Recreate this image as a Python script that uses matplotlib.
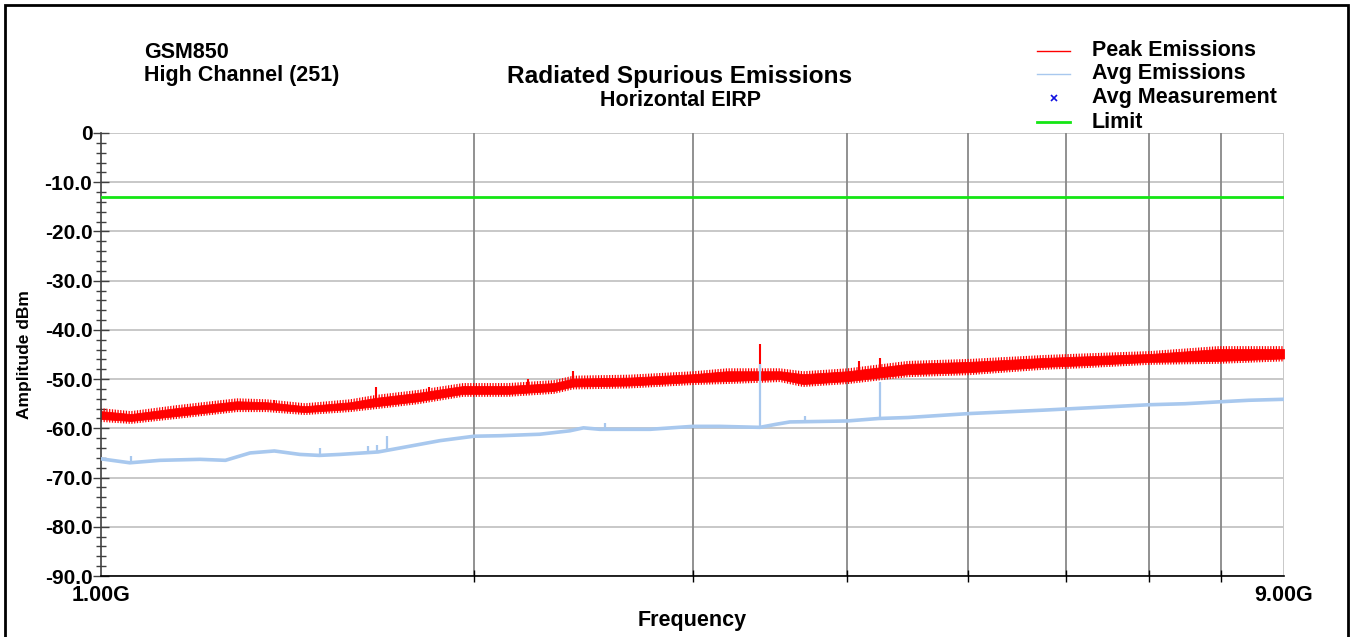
import matplotlib
matplotlib.use("Agg")
import matplotlib.pyplot as plt
from matplotlib.lines import Line2D
from matplotlib.patches import Rectangle
from matplotlib.ticker import FixedLocator, NullFormatter

plt.rcParams['font.family'] = ['Liberation Sans', 'DejaVu Sans']
plt.rcParams['font.weight'] = 'bold'
plt.rcParams['hatch.linewidth'] = 0.9
plt.rcParams['hatch.color'] = '#ff0000'

# ---- Peak emissions: envelope of the swept trace (GHz, dBm) ----
peak_freq = [1.000, 1.057, 1.150, 1.287, 1.361, 1.461, 1.588, 1.667, 1.802,
             1.959, 2.130, 2.320, 2.403, 2.666, 3.004, 3.199, 3.529, 3.684,
             4.005, 4.477, 5.014, 5.763, 6.185, 7.016, 7.961, 9.000]
peak_low = [-58.3, -58.7, -57.7, -56.3, -56.3, -56.9, -56.3, -55.7, -54.7,
            -53.2, -53.2, -52.6, -51.7, -51.5, -50.8, -50.6, -50.2, -51.2,
            -50.6, -49.2, -48.8, -47.7, -47.4, -46.7, -46.5, -46.0]
peak_high = [-56.3, -56.9, -55.7, -54.3, -54.5, -55.3, -54.5, -53.6, -52.6,
             -51.2, -51.2, -50.6, -49.7, -49.5, -48.8, -48.2, -48.2, -48.8,
             -48.2, -46.7, -46.3, -45.5, -45.2, -44.7, -43.7, -43.7]

# Narrow peaks standing out of the peak trace
peak_spike_freq = [1.380, 1.667, 1.840, 2.210, 2.403, 3.400, 4.087, 4.250]
peak_spike_base = [-55.5, -54.5, -53.5, -52.0, -50.5, -49.5, -48.5, -48.0]
peak_spike_top = [-54.3, -51.6, -51.6, -50.0, -48.3, -42.9, -46.3, -45.7]

# ---- Average emissions trace (GHz, dBm) ----
avg_freq = [1.000, 1.055, 1.116, 1.202, 1.260, 1.319, 1.380, 1.447, 1.500,
            1.559, 1.673, 1.742, 1.877, 2.000, 2.099, 2.259, 2.389, 2.450,
            2.526, 2.772, 3.000, 3.157, 3.400, 3.500, 3.595, 3.800, 4.000,
            4.240, 4.477, 5.014, 5.763, 6.185, 7.016, 7.490, 8.000, 8.430,
            9.000]
avg_dbm = [-66.2, -67.0, -66.5, -66.3, -66.5, -65.0, -64.6, -65.3, -65.5,
           -65.3, -64.8, -64.0, -62.5, -61.6, -61.5, -61.2, -60.5, -59.9,
           -60.2, -60.2, -59.6, -59.6, -59.8, -59.2, -58.7, -58.6, -58.5,
           -58.0, -57.8, -57.0, -56.3, -55.9, -55.2, -55.0, -54.6, -54.3,
           -54.1]

avg_spike_freq = [1.058, 1.502, 1.642, 1.670, 1.701, 2.550, 3.400, 3.700, 4.250]
avg_spike_base = [-67.0, -65.5, -65.0, -64.8, -64.6, -60.2, -59.8, -58.6, -58.0]
avg_spike_top = [-65.6, -64.0, -63.6, -63.4, -61.6, -59.0, -47.0, -57.5, -50.6]

limit_dbm = -13.0

y_ticks = [0, -10, -20, -30, -40, -50, -60, -70, -80, -90]
y_tick_labels = ["0", "-10.0", "-20.0", "-30.0", "-40.0", "-50.0",
                 "-60.0", "-70.0", "-80.0", "-90.0"]
x_grid_ghz = [2, 3, 4, 5, 6, 7, 8]
x_end_ticks = [1.0, 9.0]
x_end_labels = ["1.00G", "9.00G"]

legend_labels = ["Peak Emissions", "Avg Emissions", "Avg Measurement", "Limit"]

RED = "#ff0000"
BLUE_LIGHT = "#a8c8ee"
GREEN = "#14e614"
FS = 15.5

fig = plt.figure(figsize=(13.54, 6.37), dpi=100)
ax = fig.add_axes([101 / 1354, 1 - 576 / 637, (1284 - 101) / 1354, (576 - 133) / 637])

ax.set_xscale("log")
ax.set_xlim(1.0, 9.0)
ax.set_ylim(-90, 0)

# grid
for y in y_ticks:
    ax.axhline(y, color="#c8c8c8", lw=1.4, zorder=0)
for g in x_grid_ghz:
    ax.axvline(g, color="#888888", lw=1.3, zorder=0)
ax.axvline(9.0, color="#c8c8c8", lw=1.4, zorder=0)

# limit
ax.axhline(limit_dbm, color=GREEN, lw=2.0, zorder=3)

# peak trace: fine striated noise fringe around a solid core
fringe = 0.4
ax.fill_between(peak_freq, [v - fringe for v in peak_low],
                [v + fringe for v in peak_high], facecolor="none",
                edgecolor=RED, hatch="||||||", lw=0, zorder=2)
core_inset = 0.2
ax.fill_between(peak_freq, [v + core_inset for v in peak_low],
                [v - core_inset for v in peak_high], color=RED, lw=0.6,
                edgecolor=RED, zorder=2)
ax.vlines(peak_spike_freq, peak_spike_base, peak_spike_top, color=RED,
          lw=1.5, zorder=2)

# average trace
ax.plot(avg_freq, avg_dbm, color=BLUE_LIGHT, lw=2.6, zorder=4,
        solid_joinstyle="round")
ax.vlines(avg_spike_freq, avg_spike_base, avg_spike_top, color=BLUE_LIGHT,
          lw=1.6, zorder=4)

# axes styling
for side in ("top", "right"):
    ax.spines[side].set_visible(False)
ax.spines["left"].set_color("#404040")
ax.spines["left"].set_linewidth(1.2)
ax.spines["bottom"].set_color("#000000")
ax.spines["bottom"].set_linewidth(1.2)

ax.yaxis.set_major_locator(FixedLocator(y_ticks))
ax.set_yticklabels(y_tick_labels, fontsize=15, fontweight="bold")
ax.yaxis.set_minor_locator(FixedLocator([v for v in range(-90, 1, 2) if v % 10]))
ax.tick_params(axis="y", which="major", direction="inout", length=11,
               width=1.0, color="#404040", pad=0.8)
ax.tick_params(axis="y", which="minor", direction="inout", length=7,
               width=1.0, color="#404040")

ax.xaxis.set_major_locator(FixedLocator(x_end_ticks))
ax.set_xticklabels(x_end_labels, fontsize=FS, fontweight="bold")
ax.xaxis.set_minor_locator(FixedLocator(x_grid_ghz))
ax.xaxis.set_minor_formatter(NullFormatter())
ax.tick_params(axis="x", which="major", length=0, pad=6.5)
ax.tick_params(axis="x", which="minor", direction="inout", length=8,
               width=1.0, color="#000000")

ax.set_xlabel("Frequency", fontsize=FS, fontweight="bold")
ax.set_ylabel("Amplitude dBm", fontsize=12.5, fontweight="bold")
ax.yaxis.set_label_coords(-0.058, 0.5)
ax.xaxis.set_label_coords(0.5, -0.077)

# titles
fig.text(144 / 1354, 1 - 52 / 637, "GSM850", fontsize=FS,
         fontweight="bold", va="center", ha="left")
fig.text(144 / 1354, 1 - 75 / 637, "High Channel (251)", fontsize=FS,
         fontweight="bold", va="center", ha="left")
fig.text(680 / 1354, 1 - 76 / 637, "Radiated Spurious Emissions",
         fontsize=17.6, fontweight="bold", va="center", ha="center")
fig.text(680 / 1354, 1 - 100 / 637, "Horizontal EIRP", fontsize=FS,
         fontweight="bold", va="center", ha="center")

# legend
leg_rows = [51, 74, 98, 122]
x0, x1 = 1037 / 1354, 1070 / 1354
fig.add_artist(Line2D([x0, x1], [1 - leg_rows[0] / 637] * 2, color=RED, lw=1.0))
fig.add_artist(Line2D([x0, x1], [1 - leg_rows[1] / 637] * 2, color=BLUE_LIGHT, lw=1.0))
fig.add_artist(Line2D([(x0 + x1) / 2], [1 - leg_rows[2] / 637], color="#1010e0",
                      marker="x", markersize=5, mew=1.2, lw=0))
fig.add_artist(Line2D([x0, x1], [1 - leg_rows[3] / 637] * 2, color=GREEN, lw=2.0))
for row, lab in zip(leg_rows, legend_labels):
    fig.text(1092 / 1354, 1 - row / 637, lab, fontsize=FS,
             fontweight="bold", va="center", ha="left")

# outer frame
fig.add_artist(Rectangle((5 / 1354, -0.05), (1348 - 5) / 1354, 1.05 - 5 / 637,
                         transform=fig.transFigure, fill=False,
                         edgecolor="#000000", lw=2.0))

fig.savefig("out.png", dpi=100, facecolor="white")
